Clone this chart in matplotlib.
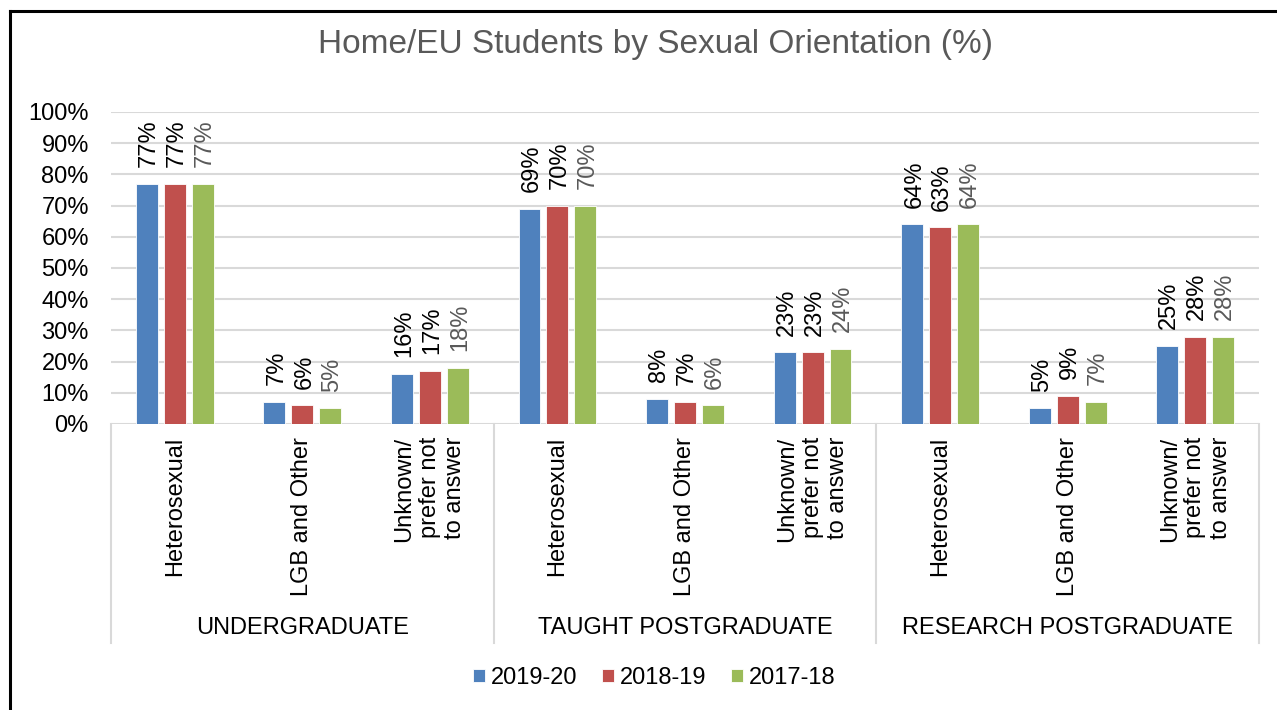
import numpy as np
import matplotlib.pyplot as plt
from matplotlib.lines import Line2D
from matplotlib.transforms import blended_transform_factory

plt.rcParams['font.family'] = ['Liberation Sans', 'DejaVu Sans']

groups = ["UNDERGRADUATE", "TAUGHT POSTGRADUATE", "RESEARCH POSTGRADUATE"]
categories = ["Heterosexual", "LGB and Other", "Unknown/\nprefer not\nto answer"]
years = ["2019-20", "2018-19", "2017-18"]
colors = ["#4F81BD", "#C0504D", "#9BBB59"]
label_colors = ["black", "black", "#595959"]

# one value per category, groups in order (UG x3, TPG x3, PGR x3)
values_2019_20 = [77, 7, 16, 69, 8, 23, 64, 5, 25]
values_2018_19 = [77, 6, 17, 70, 7, 23, 63, 9, 28]
values_2017_18 = [77, 5, 18, 70, 6, 24, 64, 7, 28]
series = [values_2019_20, values_2018_19, values_2017_18]

W, H = 1277, 710
fig = plt.figure(figsize=(W / 100, H / 100), dpi=100)
ax = fig.add_axes([111 / W, 1 - 424 / H, (1259 - 111) / W, (424 - 112) / H])

n = len(groups) * len(categories)
x = np.arange(n)
bar_w = 0.172
step = 0.219

for k, (vals, col, lcol, name) in enumerate(zip(series, colors, label_colors, years)):
    pos = x + (k - 1) * step
    ax.bar(pos, vals, width=bar_w, color=col, edgecolor='white', linewidth=0.6,
           label=name, zorder=3)
    for p, v in zip(pos, vals):
        ax.annotate(f"{v}%", (p, v), xytext=(1.5, 12), textcoords='offset points',
                    rotation=90, ha='center', va='bottom', fontsize=17, color=lcol)

ax.set_xlim(-0.5, n - 0.5)
ax.set_ylim(0, 100)
ax.set_yticks(np.arange(0, 101, 10))
ax.set_yticklabels([f"{t}%" for t in range(0, 101, 10)])
ax.tick_params(axis='y', length=0, pad=16, labelsize=17)
ax.set_xticks([])
ax.yaxis.grid(True, color='#D9D9D9', linewidth=1.5)
ax.set_axisbelow(True)
for s in ax.spines.values():
    s.set_visible(False)

# hierarchical category axis
trans = blended_transform_factory(ax.transData, ax.transAxes)
ax_h = 424 - 112
for i, cat in enumerate(categories * len(groups)):
    ax.text(x[i], -13 / ax_h, cat, transform=trans, rotation=90, ha='center', va='top',
            multialignment='right', fontsize=17, linespacing=1.2)
for g, name in enumerate(groups):
    ax.text(g * 3 + 1, -(628 - 424) / ax_h, name, transform=trans, ha='center',
            va='center', fontsize=17)
for b in range(len(groups) + 1):
    ax.add_line(Line2D([b * 3 - 0.5, b * 3 - 0.5], [0, -(643 - 424) / ax_h],
                       transform=trans, color='#D9D9D9', linewidth=1.5, clip_on=False))

fig.text(656 / W, 1 - 45 / H, "Home/EU Students by Sexual Orientation (%)",
         ha='center', va='center', fontsize=24, color='#595959')

fig.legend(loc='center', bbox_to_anchor=(654 / W, 1 - 678 / H), ncol=3, frameon=False,
           fontsize=17, handlelength=0.5, handleheight=0.5, handletextpad=0.25,
           columnspacing=1.05)

# chart frame (left and top visible)
fig.add_artist(Line2D([10 / W, 10 / W], [0, 1 - 11 / H], transform=fig.transFigure,
                      color='black', linewidth=2.2))
fig.add_artist(Line2D([10 / W, 1], [1 - 11 / H, 1 - 11 / H], transform=fig.transFigure,
                      color='black', linewidth=2.2))

fig.savefig("out.png", dpi=100)
